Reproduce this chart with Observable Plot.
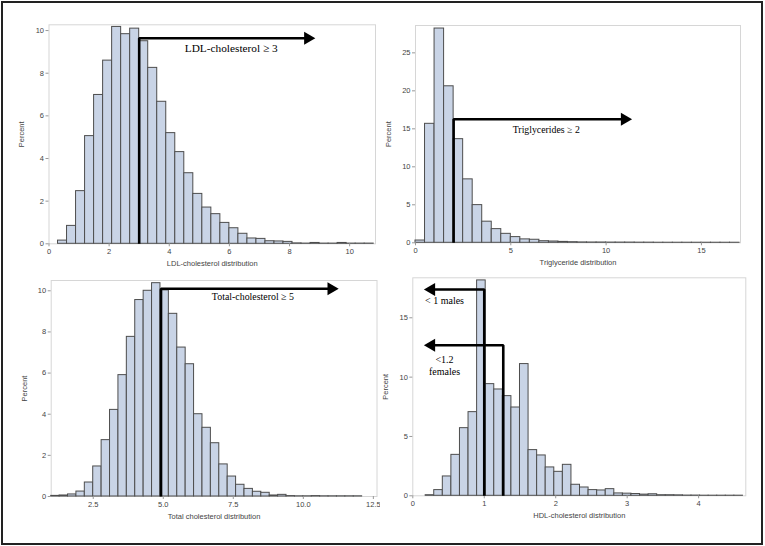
<!DOCTYPE html>
<html>
<head>
<meta charset="utf-8">
<script src="https://cdn.jsdelivr.net/npm/d3@7"></script>
<script src="https://cdn.jsdelivr.net/npm/@observablehq/plot@0.6"></script>
<style>
  html, body { margin: 0; padding: 0; background: #fff; }
  #wrap { position: relative; width: 765px; height: 546px; overflow: hidden; background: #fff; }
  #border { position: absolute; left: 1px; top: 1px; width: 762px; height: 544px; box-sizing: border-box; border: 2px solid #222; }
  .panel { position: absolute; }
</style>
</head>
<body>
<div id="wrap"><div id="border"></div></div>
<script>
// ---- Data (percent per bin) ----
const ldlStart = 0.3, ldlWidth = 0.3;
const ldlPercent = [0.15, 0.84, 2.47, 5.05, 6.98, 8.59, 10.17, 9.83, 10.09, 9.5, 8.25, 6.66, 5.19, 4.30, 3.31, 2.34, 1.70, 1.39, 0.98, 0.73, 0.47, 0.25, 0.23, 0.12, 0.11, 0.09, 0.02, 0.01, 0.04, 0.01, 0.01, 0.04, 0.01, 0.01, 0.01];
const ldlTicksX = [0, 2, 4, 6, 8, 10];
const ldlTicksY = [0, 2, 4, 6, 8, 10];

const tgStart = 0, tgWidth = 0.5;
const tgPercent = [0.3, 15.66, 28.2, 20.6, 13.64, 8.35, 4.96, 2.78, 1.8, 1.18, 0.75, 0.45, 0.4, 0.21, 0.17, 0.12, 0.08, 0.05, 0.04, 0.04, 0.03, 0.03, 0.03, 0.02, 0.02, 0.01, 0.01, 0.01, 0.01, 0.01, 0.01, 0.01, 0.01, 0.01];
const tgTicksX = [0, 5, 10, 15];
const tgTicksY = [0, 5, 10, 15, 20, 25];

const tcStart = 1.0, tcWidth = 0.3;
const tcPercent = [0.03, 0.05, 0.1, 0.24, 0.68, 1.46, 2.74, 4.21, 5.9, 7.76, 9.55, 10.0, 10.37, 10.02, 8.88, 7.24, 6.43, 4.0, 3.34, 2.59, 1.56, 0.97, 0.57, 0.37, 0.23, 0.18, 0.05, 0.08, 0.02, 0.01, 0.01, 0.02, 0.01, 0.01, 0.01, 0.01, 0.01];
const tcTicksX = [2.5, 5.0, 7.5, 10.0, 12.5];
const tcTicksY = [0, 2, 4, 6, 8, 10];

const hdlStart = 0.18, hdlWidth = 0.12;
const hdlPercent = [0.05, 0.48, 1.63, 3.45, 5.7, 7.05, 18.15, 9.41, 8.96, 8.4, 7.44, 11.1, 3.85, 3.4, 2.39, 2.02, 2.61, 0.93, 0.7, 0.48, 0.45, 0.56, 0.2, 0.18, 0.15, 0.1, 0.13, 0.05, 0.05, 0.04, 0.02, 0.02, 0.01, 0.01, 0.01, 0.01, 0.01];
const hdlTicksX = [0, 1, 2, 3, 4];
const hdlTicksY = [0, 5, 10, 15];

// ---- Annotations (cut-offs drawn on the figure) ----
const ldlArrow = {cut: 3, level: 9.64, tip: 8.8, dir: 1};
const ldlNote = [{x: 6.06, y: 9.17, text: "LDL-cholesterol ≥ 3"}];
const tgArrow = {cut: 2, level: 16.26, tip: 11.27, dir: 1};
const tgNote = [{x: 6.86, y: 14.87, text: "Triglycerides ≥ 2"}];
const tcArrow = {cut: 4.92, level: 10.1, tip: 11.2, dir: 1};
const tcNote = [{x: 8.2, y: 9.69, text: "Total-cholesterol ≥ 5"}];
const hdlArrows = [{cut: 1.0, level: 17.38, tip: 0.18, dir: -1}, {cut: 1.266, level: 12.69, tip: 0.18, dir: -1}];
const hdlNote = [{x: 0.444, y: 16.45, text: "< 1 males"}, {x: 0.444, y: 11.46, text: "<1.2"}, {x: 0.444, y: 10.47, text: "females"}];

function bins(start, width, values) {
  return values.map((v, i) => ({x1: start + i * width, x2: start + (i + 1) * width, y: v}));
}

function panel(cfg) {
  const pxPerUnit = (cfg.width - cfg.ml - cfg.mr) / (cfg.xDomain[1] - cfg.xDomain[0]);
  const arrowMarks = [];
  for (const a of cfg.arrows) {
    const end = a.tip - a.dir * 3 / pxPerUnit;
    arrowMarks.push(Plot.line([[a.cut, 0], [a.cut, a.level], [end, a.level]], {stroke: "#000", strokeWidth: 2.6, strokeLinejoin: "miter", strokeLinecap: "butt"}));
    arrowMarks.push(Plot.dot([[a.tip, a.level]], {symbol: "triangle", rotate: a.dir > 0 ? 90 : -90, r: 4.8, fill: "#000", stroke: null, dx: -a.dir * 5.7}));
  }
  const p = Plot.plot({
    width: cfg.width, height: cfg.height,
    marginLeft: cfg.ml, marginRight: cfg.mr, marginTop: cfg.mt, marginBottom: cfg.mb,
    style: {fontFamily: "'Liberation Sans', Arial, sans-serif", fontSize: "7.5px", color: "#444", background: "transparent"},
    x: {domain: cfg.xDomain},
    y: {domain: cfg.yDomain},
    marks: [
      Plot.frame({stroke: "#d6d6d6"}),
      Plot.rectY(bins(cfg.start, cfg.binWidth, cfg.values), {x1: "x1", x2: "x2", y: "y", fill: "#c9d4e6", stroke: "#4d4d4d", strokeWidth: 1, inset: 0}),
      Plot.axisX({ticks: cfg.ticksX, tickSize: 3, tickPadding: 2, tickFormat: cfg.fmtX, stroke: "#999", fill: "#444", label: cfg.labelX, labelAnchor: "center", labelArrow: "none", labelOffset: 22}),
      Plot.axisY({ticks: cfg.ticksY, tickSize: 3, tickPadding: 2, stroke: "#999", fill: "#444", label: "Percent", labelAnchor: "center", labelArrow: "none", labelOffset: 30}),
      ...arrowMarks,
      Plot.text(cfg.notes, {x: "x", y: "y", text: "text", fontFamily: "'Liberation Serif', 'Times New Roman', serif", fontSize: cfg.noteSize, fill: "#000"})
    ]
  });
  p.classList.add("panel");
  p.style.left = cfg.left + "px";
  p.style.top = cfg.top + "px";
  document.getElementById("wrap").appendChild(p);
}

panel({left: 0, top: 0, width: 380, height: 270, ml: 48.5, mr: 5, mt: 24.3, mb: 26.7,
  xDomain: [0, 10.86], yDomain: [0, 10.27], start: ldlStart, binWidth: ldlWidth, values: ldlPercent,
  ticksX: ldlTicksX, ticksY: ldlTicksY, fmtX: d3.format("d"), labelX: "LDL-cholesterol distribution",
  arrows: [ldlArrow], notes: ldlNote, noteSize: 11.3});

panel({left: 380, top: 0, width: 385, height: 270, ml: 35, mr: 25, mt: 25, mb: 27.7,
  xDomain: [0, 17.05], yDomain: [0, 28.6], start: tgStart, binWidth: tgWidth, values: tgPercent,
  ticksX: tgTicksX, ticksY: tgTicksY, fmtX: d3.format("d"), labelX: "Triglyceride distribution",
  arrows: [tgArrow], notes: tgNote, noteSize: 9.8});

panel({left: 0, top: 270, width: 380, height: 276, ml: 50.7, mr: 3.5, mt: 10, mb: 50,
  xDomain: [1.0, 12.63], yDomain: [0, 10.5], start: tcStart, binWidth: tcWidth, values: tcPercent,
  ticksX: tcTicksX, ticksY: tcTicksY, fmtX: d3.format(".1f"), labelX: "Total cholesterol distribution",
  arrows: [tcArrow], notes: tcNote, noteSize: 9.9});

panel({left: 380, top: 270, width: 385, height: 276, ml: 32.3, mr: 19.7, mt: 7.3, mb: 50.7,
  xDomain: [0, 4.66], yDomain: [0, 18.37], start: hdlStart, binWidth: hdlWidth, values: hdlPercent,
  ticksX: hdlTicksX, ticksY: hdlTicksY, fmtX: d3.format("d"), labelX: "HDL-cholesterol distribution",
  arrows: hdlArrows, notes: hdlNote, noteSize: 10});
</script>
</body>
</html>
